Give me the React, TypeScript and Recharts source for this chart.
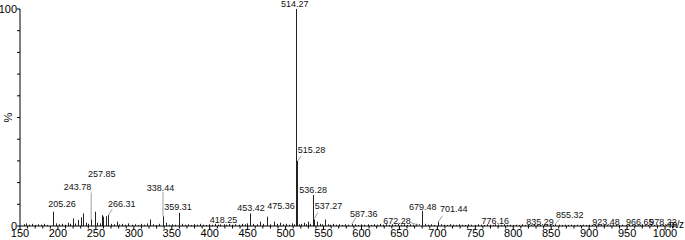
import { ComposedChart, Bar, XAxis, YAxis, ReferenceDot } from 'recharts'

// labelled peaks (m/z, relative intensity %)
const labelMz = [205.26, 243.78, 257.85, 266.31, 338.44, 359.31, 418.25, 453.42, 475.36, 514.27, 515.28, 536.28, 537.27, 587.36, 672.28, 679.48, 701.44, 776.16, 835.29, 855.32, 923.48, 966.65, 978.22]
const labelPct = [1.0, 3.0, 5.0, 5.0, 4.5, 6.1, 0.8, 5.8, 4.3, 100, 30, 14.3, 3.0, 1.0, 1.0, 7.0, 2.0, 0.8, 0.5, 0.8, 0.5, 0.5, 0.5]

// unlabelled peaks and baseline noise
const otherMz = [155, 158, 162, 166, 170, 174, 178, 182, 186, 193, 197, 201, 209, 213, 216, 219.4, 223, 226.8, 230.4, 233.4, 237, 240, 248.8, 252, 255, 259.8, 263.3, 270, 274, 277.4, 281, 285, 289, 293, 297, 301, 305, 309, 313, 317, 321.3, 325, 329, 333, 342, 346, 350, 354, 363, 367, 371, 375, 379, 383, 387, 391, 395, 399, 403, 407, 411, 414, 422, 426, 430, 434, 438, 442, 446, 449, 457, 462, 466, 470, 480, 485, 489, 492.6, 496, 500, 504, 508, 511, 518, 521, 524, 527, 529.5, 532, 541, 545, 548, 552, 556, 559, 562.5, 566, 570, 574, 578, 582, 592, 596, 600, 604, 608, 612, 616, 620, 624, 628, 632, 636, 640, 644, 648, 652, 656, 660, 664, 668, 676, 684, 688, 692, 696, 705, 709, 713, 717, 721, 725, 729, 733, 737, 741, 745, 749, 753, 757, 761, 765, 769, 773, 780, 784, 788, 792, 796, 800, 804, 808, 812, 816, 820, 824, 828, 832, 840, 844, 848, 852, 860, 864, 868, 872, 876, 880, 884, 888, 892, 896, 900, 904, 908, 912, 916, 920, 928, 932, 936, 940, 944, 948, 952, 956, 960, 964, 970, 974, 982, 986, 990, 994, 998, 1002, 1006, 1010]
const otherPct = [0.8, 1.2, 0.6, 1.0, 0.5, 0.8, 0.6, 1.0, 0.5, 6.6, 1.2, 0.8, 0.6, 1.5, 1.0, 3.5, 1.2, 2.8, 4.0, 5.8, 1.5, 1.0, 6.6, 1.5, 1.2, 4.3, 4.5, 1.0, 0.8, 2.0, 0.7, 1.0, 0.6, 1.2, 0.6, 0.8, 0.5, 1.0, 0.6, 1.2, 3.0, 0.8, 0.5, 1.0, 1.5, 0.6, 0.8, 0.6, 1.0, 0.6, 0.8, 0.5, 0.8, 0.6, 1.0, 0.6, 0.5, 0.8, 0.6, 1.0, 0.6, 0.8, 0.6, 1.0, 0.6, 0.8, 0.6, 1.0, 0.8, 1.2, 1.0, 0.8, 2.0, 1.0, 0.8, 2.0, 1.0, 1.5, 0.8, 1.0, 0.6, 1.2, 0.8, 0.8, 1.0, 1.5, 0.8, 2.0, 1.0, 2.0, 1.0, 0.8, 3.0, 0.8, 0.6, 1.0, 0.6, 0.8, 0.5, 0.8, 0.6, 0.8, 0.5, 0.8, 0.6, 0.8, 0.5, 0.8, 0.6, 1.0, 0.6, 0.8, 0.5, 0.8, 0.6, 1.0, 0.6, 0.8, 0.5, 0.8, 0.6, 0.8, 1.0, 0.6, 0.8, 0.5, 0.8, 0.6, 0.5, 0.8, 0.6, 0.5, 0.8, 0.6, 0.5, 0.8, 0.6, 0.5, 0.8, 0.6, 0.5, 0.8, 0.6, 0.5, 0.6, 0.5, 0.8, 0.5, 0.6, 0.5, 0.6, 0.5, 0.8, 0.5, 0.6, 0.5, 0.6, 0.5, 0.6, 0.5, 0.6, 0.5, 0.6, 0.5, 0.6, 0.5, 0.6, 0.5, 0.6, 0.5, 0.6, 0.5, 0.6, 0.5, 0.6, 0.5, 0.6, 0.5, 0.6, 0.5, 0.6, 0.5, 0.6, 0.5, 0.6, 0.5, 0.6, 0.5, 0.6, 0.5, 0.6, 0.5, 0.6, 0.5, 0.6, 0.5]

const xMajorTicks = [150, 200, 250, 300, 350, 400, 450, 500, 550, 600, 650, 700, 750, 800, 850, 900, 950, 1000]
const yTicks = [0, 10, 20, 30, 40, 50, 60, 70, 80, 90, 100]
const yTickLabels = ['0', '', '', '', '', '', '', '', '', '', '100']

// label offsets (px) from the peak top, and optional leader line
const labelLayout: Record<string, { dx: number; dy: number; leader?: number[] }> = {
  '205.26': { dx: 0, dy: -17 },
  '243.78': { dx: -13.7, dy: -29.5, leader: [0, 0, 0, -27] },
  '257.85': { dx: 0, dy: -38.6 },
  '266.31': { dx: 13.4, dy: -8, leader: [0, 0, 4, -6] },
  '338.44': { dx: -2.5, dy: -25.7, leader: [0, 0, 0, -24] },
  '359.31': { dx: -0.8, dy: -2.8 },
  '418.25': { dx: 0, dy: -1.3 },
  '453.42': { dx: 0.8, dy: -2 },
  '475.36': { dx: 14, dy: -7.7 },
  '514.27': { dx: -1.7, dy: -1.8 },
  '515.28': { dx: 14.3, dy: -8, leader: [0.5, 0, 4, -5] },
  '536.28': { dx: 0, dy: -1.5 },
  '537.27': { dx: 14.6, dy: -10.5, leader: [0.5, -1, 4, -7] },
  '587.36': { dx: 11.8, dy: -7, leader: [0, 0, 4, -6] },
  '672.28': { dx: -19.3, dy: 0, leader: [-5.3, -1.1, 4.7, 2.2] },
  '679.48': { dx: 1, dy: -1 },
  '701.44': { dx: 15.4, dy: -10, leader: [0, 0, 4, -6] },
  '776.16': { dx: 0, dy: -0.3 },
  '835.29': { dx: 0, dy: 0 },
  '855.32': { dx: 14.5, dy: -6.3, leader: [0, 0, 4, -5] },
  '923.48': { dx: -1, dy: 0 },
  '966.65': { dx: 0, dy: 0 },
  '978.22': { dx: 14.5, dy: 0 },
}

const FONT = '"Liberation Sans", Arial, sans-serif'

const minorTicks: number[] = []
for (let v = 150; v <= 1010; v += 10) minorTicks.push(v)

const data = [
  ...labelMz.map((mz, i) => ({ mz, pct: labelPct[i] })),
  ...otherMz.map((mz, i) => ({ mz, pct: otherPct[i] })),
].sort((a, b) => a.mz - b.mz)

const PeakLine = (p: any) => {
  const x = Math.round(p.x + p.width / 2) + 0.5
  return <line x1={x} x2={x} y1={p.y} y2={p.y + p.height} stroke="#222" strokeWidth={1} />
}

const XTick = (p: any) => {
  const v = p.payload.value
  const major = xMajorTicks.includes(v)
  return (
    <g>
      <line x1={p.x} x2={p.x} y1={p.y} y2={p.y + (major ? 4 : 2.5)} stroke="#000" strokeWidth={1} />
      {major && (
        <text x={p.x} y={p.y + 11} textAnchor="middle" fontSize={11} fontFamily={FONT} fill="#000">
          {v}
        </text>
      )}
    </g>
  )
}

const YTick = (p: any) => {
  const i = yTicks.indexOf(p.payload.value)
  return (
    <g>
      <line x1={p.x - 3} x2={p.x} y1={p.y} y2={p.y} stroke="#000" strokeWidth={1} />
      <text x={p.x - 3} y={p.y + 4} textAnchor="end" fontSize={11} fontFamily={FONT} fill="#000">
        {yTickLabels[i]}
      </text>
    </g>
  )
}

const makeLabel = (text: string) => (p: any) => {
  const l = labelLayout[text]
  const cx = p.cx
  const cy = p.cy
  return (
    <g>
      {l.leader && (
        <line
          x1={cx + l.leader[0]}
          y1={cy + l.leader[1]}
          x2={cx + l.leader[2]}
          y2={cy + l.leader[3]}
          stroke="#888"
          strokeWidth={0.8}
        />
      )}
      <text x={cx + l.dx} y={cy + l.dy} textAnchor="middle" fontSize={9} fontFamily={FONT} fill="#111">
        {text}
      </text>
    </g>
  )
}

export default function App() {
  return (
    <div style={{ position: 'absolute', left: 0, top: 0, width: 685, height: 240, background: '#fff' }}>
      <ComposedChart width={685} height={240} data={data} margin={{ top: 9, right: 8.6, bottom: 0, left: 0 }}>
        <XAxis
          dataKey="mz"
          type="number"
          domain={[150, 1015]}
          ticks={minorTicks}
          interval={0}
          height={14}
          tickSize={0}
          tickMargin={0}
          tickLine={false}
          stroke="#000"
          tick={<XTick />}
          allowDataOverflow
        />
        <YAxis
          type="number"
          domain={[0, 100]}
          ticks={yTicks}
          interval={0}
          width={20}
          tickSize={0}
          tickMargin={0}
          tickLine={false}
          stroke="#000"
          tick={<YTick />}
        />
        <Bar dataKey="pct" barSize={1} isAnimationActive={false} shape={<PeakLine />} />
        {labelMz.map((mz, i) => (
          <ReferenceDot
            key={mz}
            x={mz}
            y={labelPct[i]}
            r={0}
            ifOverflow="visible"
            shape={makeLabel(mz.toFixed(2))}
          />
        ))}
      </ComposedChart>
      <div
        style={{
          position: 'absolute',
          left: 4,
          top: 112,
          fontFamily: FONT,
          fontSize: 11,
          transform: 'rotate(-90deg)',
          lineHeight: '11px',
        }}
      >
        %
      </div>
      <div style={{ position: 'absolute', left: 669, top: 220, fontFamily: FONT, fontSize: 10, lineHeight: '10px', letterSpacing: -0.5 }}>
        m/z
      </div>
    </div>
  )
}
